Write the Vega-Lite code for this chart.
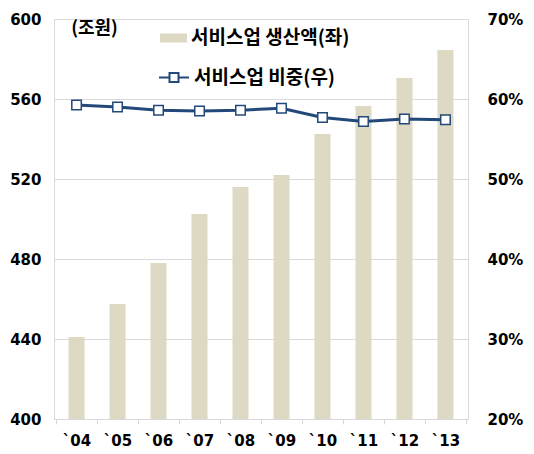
{
  "$schema": "https://vega.github.io/schema/vega-lite/v6.json",
  "width": 414,
  "height": 400,
  "autosize": "none",
  "padding": {"left": 54, "top": 19, "right": 66, "bottom": 35},
  "background": "white",
  "config": {"view": {"stroke": null}, "font": "DejaVu Sans"},
  "data": {
    "values": [
      {"year": "`04", "output": 441, "share": 59.25},
      {"year": "`05", "output": 457.5, "share": 59.0},
      {"year": "`06", "output": 478, "share": 58.6},
      {"year": "`07", "output": 502.5, "share": 58.5},
      {"year": "`08", "output": 516, "share": 58.6},
      {"year": "`09", "output": 522, "share": 58.85},
      {"year": "`10", "output": 542.5, "share": 57.7},
      {"year": "`11", "output": 556.5, "share": 57.2},
      {"year": "`12", "output": 570.5, "share": 57.5},
      {"year": "`13", "output": 584.5, "share": 57.4}
    ]
  },
  "encoding": {
    "x": {
      "field": "year",
      "type": "nominal",
      "sort": null,
      "scale": {"paddingInner": 0, "paddingOuter": 0.05},
      "axis": {
        "title": null,
        "labelAngle": 0,
        "labelFont": "DejaVu Sans",
        "labelFontSize": 15,
        "labelFontWeight": "bold",
        "labelColor": "black",
        "labelPadding": 9,
        "domainColor": "#D9D9D9",
        "domainWidth": 1,
        "tickColor": "#D9D9D9",
        "tickSize": 5,
        "tickBand": "extent",
        "grid": false
      }
    }
  },
  "layer": [
    {
      "mark": {"type": "bar", "size": 16},
      "encoding": {
        "y": {
          "field": "output",
          "type": "quantitative",
          "scale": {"domain": [400, 600], "zero": false, "nice": false},
          "axis": {
            "orient": "left",
            "values": [400, 440, 480, 520, 560, 600],
            "title": "(조원)",
            "titleAngle": 0,
            "titleX": 40,
            "titleY": 9,
            "titleAlign": "center",
            "titleBaseline": "middle",
            "titleFont": "Noto Sans CJK KR",
            "titleFontSize": 18,
            "titleFontWeight": "bold",
            "titleColor": "black",
            "labelFont": "DejaVu Sans",
            "labelFontSize": 15,
            "labelFontWeight": "bold",
            "labelColor": "black",
            "labelPadding": 13,
            "ticks": false,
            "domain": true,
            "domainColor": "#D9D9D9",
            "grid": true,
            "gridColor": "#D9D9D9",
            "gridWidth": 1
          }
        },
        "y2": {"datum": 400},
        "fill": {
          "datum": "서비스업 생산액(좌)",
          "scale": {"range": ["#DDD9C3"]},
          "legend": {
            "orient": "none",
            "legendX": 106,
            "legendY": 5.5,
            "title": null,
            "padding": 0,
            "symbolType": "M-1,-0.333H1V0.333H-1Z",
            "symbolSize": 729,
            "symbolStrokeWidth": 0,
            "labelFont": "Noto Sans CJK KR",
            "labelFontSize": 19,
            "labelFontWeight": "bold",
            "labelColor": "black",
            "labelOffset": 4
          }
        }
      }
    },
    {
      "mark": {"type": "line", "strokeWidth": 3},
      "encoding": {
        "y": {
          "field": "share",
          "type": "quantitative",
          "scale": {"domain": [20, 70], "zero": false, "nice": false},
          "axis": {
            "orient": "right",
            "values": [20, 30, 40, 50, 60, 70],
            "labelExpr": "datum.value + '%'",
            "title": null,
            "labelFont": "DejaVu Sans",
            "labelFontSize": 15,
            "labelFontWeight": "bold",
            "labelColor": "black",
            "labelPadding": 19,
            "ticks": false,
            "domain": true,
            "domainColor": "#D9D9D9",
            "grid": false
          }
        },
        "stroke": {
          "datum": "서비스업 비중(우)",
          "scale": {"range": ["#23497A"]},
          "legend": {
            "orient": "none",
            "legendX": 104,
            "legendY": 42.5,
            "title": null,
            "padding": 0,
            "symbolType": "M-1,0H-0.3M0.3,0H1M-0.3,-0.3H0.3V0.3H-0.3Z",
            "symbolSize": 900,
            "symbolStrokeWidth": 2,
            "symbolFillColor": "white",
            "labelFont": "Noto Sans CJK KR",
            "labelFontSize": 19,
            "labelFontWeight": "bold",
            "labelColor": "black",
            "labelOffset": 4
          }
        }
      }
    },
    {
      "mark": {"type": "point", "shape": "square", "size": 90, "filled": false, "fill": "white", "fillOpacity": 1, "strokeWidth": 1.5, "opacity": 1},
      "encoding": {
        "y": {"field": "share", "type": "quantitative", "scale": {"domain": [20, 70], "zero": false, "nice": false}, "axis": null},
        "stroke": {"datum": "서비스업 비중(우)"}
      }
    }
  ],
  "resolve": {"scale": {"y": "independent"}}
}
